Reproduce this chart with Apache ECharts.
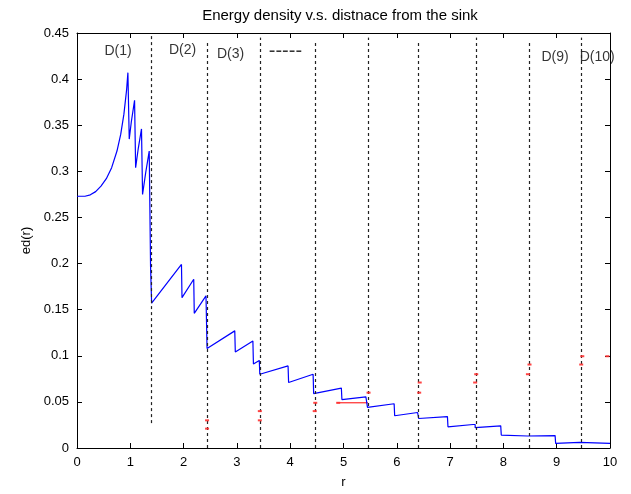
<!DOCTYPE html>
<html>
<head>
<meta charset="utf-8">
<script src="https://cdn.jsdelivr.net/npm/echarts@6/dist/echarts.min.js"></script>
<style>
  html, body { margin: 0; padding: 0; background: #fff; }
  #chart { width: 631px; height: 494px; }
</style>
</head>
<body>
<div id="chart"></div>
<script>
// blue curve, one array per zone [r, ed(r)]
var zone1 = [[0,0.273],[0.15,0.273],[0.25,0.2745],[0.35,0.278],[0.45,0.284],[0.55,0.292],[0.65,0.304],
  [0.75,0.322],[0.82,0.340],[0.88,0.362],[0.93,0.388],[0.955,0.407],[0.98,0.335],[1.02,0.354],[1.08,0.377],
  [1.10,0.304],[1.15,0.325],[1.21,0.346],[1.23,0.275],[1.29,0.299],[1.355,0.322],[1.38,0.322],[1.38,0.197],
  [1.40,0.197],[1.40,0.157]];
var zone2 = [[1.40,0.157],[1.96,0.199],[1.97,0.163],[2.19,0.183],[2.20,0.146],[2.42,0.165],[2.44,0.165],[2.44,0.108]];
var zone3 = [[2.44,0.108],[2.96,0.127],[2.97,0.104],[3.30,0.116],[3.31,0.091],[3.42,0.095],[3.43,0.080]];
var zone4 = [[3.43,0.080],[3.96,0.089],[3.97,0.071],[4.43,0.080],[4.44,0.059]];
var zone5 = [[4.44,0.059],[4.96,0.065],[4.97,0.0525],[5.42,0.0555],[5.45,0.0555],[5.45,0.044]];
var zone6 = [[5.45,0.044],[5.95,0.048],[5.96,0.035],[6.39,0.0385],[6.41,0.0385],[6.41,0.032]];
var zone7 = [[6.41,0.032],[6.95,0.034],[6.96,0.023],[7.43,0.0255],[7.47,0.0255],[7.47,0.022]];
var zone8 = [[7.47,0.022],[7.95,0.024],[7.96,0.014],[8.45,0.013],[8.97,0.0135],[8.98,0.005]];
var zone9 = [[8.98,0.005],[9.43,0.0062],[9.46,0.0062],[9.46,0.005],[10,0.005]];

// zone boundaries (dashed lines)
var boundaries = [1.39, 2.45, 3.44, 4.47, 5.46, 6.41, 7.49, 8.48, 9.46];
var boundaryBottom = [0.027, 0, 0, 0, 0, 0, 0, 0, 0];
var boundaryTop = [0.45, 0.442, 0.445, 0.442, 0.445, 0.442, 0.445, 0.442, 0.445];

// red reference line and marks
var redLine = [[4.88,0.049],[5.46,0.049]];
var redMarks = [[2.44,0.030],[2.44,0.021],[3.43,0.040],[3.43,0.030],[4.47,0.049],[4.46,0.040],[4.90,0.049],
  [5.47,0.060],[6.43,0.071],[6.42,0.060],[7.49,0.080],[7.47,0.071],[8.49,0.0905],[8.46,0.080],
  [9.48,0.0995],[9.46,0.0905],[9.95,0.0995]];

// zone labels
var zoneNames = ['D(1)','D(2)','D(3)','-----','D(9)','D(10)'];
var zoneNameR = [0.77, 1.98, 2.88, 3.91, 8.97, 9.76];
var zoneNameV = [0.430, 0.431, 0.427, 0.430, 0.424, 0.424];

var xTicks = [0, 10, 1];
var yTicks = [0, 0.45, 0.05];

var font = 'Liberation Sans, Arial, sans-serif';
var chart = echarts.init(document.getElementById('chart'));

function valueAxis(pos, range, showLabel) {
  return {
    type: 'value', position: pos, min: range[0], max: range[1], interval: range[2],
    axisLine: { show: true, onZero: false, lineStyle: { color: '#000', width: 1 } },
    axisTick: { show: true, inside: true, length: 5, lineStyle: { color: '#000' } },
    axisLabel: { show: showLabel, color: '#000', fontSize: 13, fontFamily: font, margin: 8 },
    splitLine: { show: false }
  };
}

var xBottom = valueAxis('bottom', xTicks, true);
xBottom.name = 'r';
xBottom.nameLocation = 'middle';
xBottom.nameGap = 28;
xBottom.nameTextStyle = { color: '#000', fontSize: 13, fontFamily: font };
var yLeft = valueAxis('left', yTicks, true);
yLeft.name = 'ed(r)';
yLeft.nameLocation = 'middle';
yLeft.nameGap = 42;
yLeft.nameTextStyle = { color: '#000', fontSize: 13, fontFamily: font };

var zones = [zone1, zone2, zone3, zone4, zone5, zone6, zone7, zone8, zone9];
var blueCurve = [];
zones.forEach(function (z) { blueCurve = blueCurve.concat(z); });

var option = {
  animation: false,
  backgroundColor: '#fff',
  title: {
    text: 'Energy density v.s. distnace from the sink',
    left: 335, top: 3, textAlign: 'center',
    textStyle: { color: '#000', fontSize: 15, fontWeight: 'normal', fontFamily: font }
  },
  grid: { left: 77, right: 21, top: 33, bottom: 42.5, containLabel: false },
  xAxis: [xBottom, valueAxis('top', xTicks, false)],
  yAxis: [yLeft, valueAxis('right', yTicks, false)],
  series: [
    {
      type: 'line', data: redLine, showSymbol: false, clip: false,
      lineStyle: { color: '#ff0000', width: 1 }, z: 2
    },
    {
      type: 'line', data: blueCurve, showSymbol: false, clip: false,
      lineStyle: { color: '#0000ff', width: 1.2 }, z: 3,
      markLine: {
        silent: true, symbol: 'none', label: { show: false },
        lineStyle: { color: '#222', width: 1.2, type: [3, 3] },
        data: boundaries.map(function (b, i) {
          return [{ coord: [b, boundaryBottom[i]] }, { coord: [b, boundaryTop[i]] }];
        })
      }
    },
    {
      type: 'scatter', data: redMarks, symbol: 'rect', symbolSize: [4, 2],
      itemStyle: { color: '#ff3030', opacity: 0.9 }, z: 8, zlevel: 1
    },
    {
      type: 'scatter', symbolSize: 0, z: 4,
      data: zoneNames.map(function (n, i) {
        var item = { value: [zoneNameR[i], zoneNameV[i]], name: n };
        if (n === '-----') item.label = { fontSize: 20 };
        return item;
      }),
      label: {
        show: true, position: 'inside', formatter: '{b}',
        color: '#000', fontSize: 14, fontFamily: font
      }
    }
  ]
};
chart.setOption(option);
</script>
</body>
</html>
